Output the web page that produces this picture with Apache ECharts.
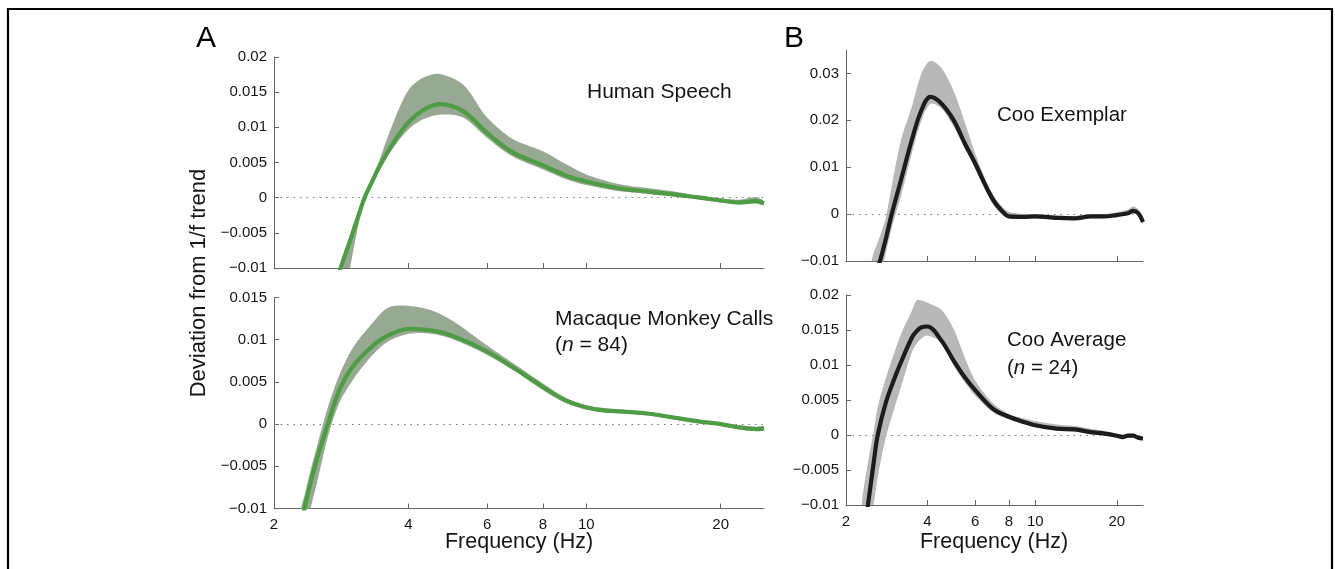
<!DOCTYPE html>
<html>
<head>
<meta charset="utf-8">
<script src="https://cdn.jsdelivr.net/npm/echarts@6/dist/echarts.min.js"></script>
<style>
html,body{margin:0;padding:0;background:#fff;}
#chart{width:1335px;height:569px;}
</style>
</head>
<body>
<div id="chart"></div>
<script>
// ---- Data ----
const xTickValues = [2, 4, 6, 8, 10, 20];

// Panel A top: Human Speech
const speechFreq  = [2.7, 2.82, 2.96, 3.1, 3.19, 3.3, 3.45, 3.7, 4.0, 4.3, 4.69, 5.3, 6, 6.86, 8, 9.04, 10, 11.9, 14, 16, 18, 20, 22, 24, 25];
const speechMean  = [-0.0145, -0.0100, -0.0061, -0.0023, 0.0000, 0.0020, 0.0045, 0.0078, 0.0107, 0.0124, 0.0133, 0.0123, 0.0092, 0.0064, 0.0046, 0.0031, 0.0023, 0.0013, 0.0008, 0.0004, 0.0000, -0.0004, -0.0007, -0.0005, -0.0008];
const speechUpper = [-0.0140, -0.0097, -0.0058, -0.0020, 0.0003, 0.0025, 0.0055, 0.0107, 0.0153, 0.0170, 0.0176, 0.0161, 0.0114, 0.0083, 0.0066, 0.0047, 0.0033, 0.0019, 0.0013, 0.0008, 0.0002, -0.0001, -0.0003, 0.0001, -0.0005];
const speechLower = [-0.0240, -0.0170, -0.0100, -0.0035, -0.0005, 0.0016, 0.0040, 0.0071, 0.0097, 0.0111, 0.0118, 0.0114, 0.0085, 0.0058, 0.0040, 0.0026, 0.0018, 0.0009, 0.0005, 0.0001, -0.0003, -0.0007, -0.0009, -0.0008, -0.0011];

// Panel A bottom: Macaque Monkey Calls
const macaqueFreq  = [2.3, 2.34, 2.4, 2.5, 2.64, 2.8, 3.0, 3.3, 3.6, 4.02, 4.5, 5, 6, 7, 8, 9, 10, 11, 12, 14, 16, 18, 20, 22, 24, 25];
const macaqueMean  = [-0.0118, -0.0100, -0.0075, -0.0040, 0.0000, 0.0040, 0.0068, 0.0091, 0.0105, 0.0113, 0.0111, 0.0105, 0.0086, 0.0064, 0.0044, 0.0028, 0.0020, 0.0016, 0.0015, 0.0012, 0.0007, 0.0003, 0.0000, -0.0004, -0.0006, -0.0005];
const macaqueUpper = [-0.0100, -0.0085, -0.0060, -0.0025, 0.0020, 0.0058, 0.0090, 0.0118, 0.0138, 0.0140, 0.0135, 0.0123, 0.0093, 0.0069, 0.0048, 0.0031, 0.0022, 0.0019, 0.0017, 0.0014, 0.0009, 0.0005, 0.0002, -0.0001, -0.0003, -0.0003];
const macaqueLower = [-0.0150, -0.0130, -0.0105, -0.0068, -0.0015, 0.0025, 0.0052, 0.0080, 0.0098, 0.0107, 0.0107, 0.0101, 0.0082, 0.0061, 0.0040, 0.0025, 0.0017, 0.0014, 0.0013, 0.0010, 0.0005, 0.0001, -0.0002, -0.0006, -0.0008, -0.0007];

// Panel B top: Coo Exemplar
const exemplarFreq  = [2.49, 2.67, 2.8, 2.95, 3.2, 3.5, 3.8, 4.1, 4.5, 5, 5.5, 6, 6.5, 7, 7.5, 8, 9, 10, 12, 14, 16, 18, 20, 22, 23, 24, 25];
const exemplarMean  = [-0.0150, -0.0100, -0.0055, 0.0000, 0.0075, 0.0158, 0.0222, 0.0250, 0.0236, 0.0200, 0.0150, 0.0108, 0.0065, 0.0030, 0.0008, -0.0005, -0.0006, -0.0005, -0.0008, -0.0009, -0.0005, -0.0005, -0.0002, 0.0002, 0.0007, 0.0002, -0.0017];
const exemplarUpper = [-0.0100, -0.0047, -0.0010, 0.0060, 0.0160, 0.0229, 0.0300, 0.0327, 0.0312, 0.0262, 0.0195, 0.0129, 0.0078, 0.0040, 0.0018, 0.0005, 0.0000, 0.0000, -0.0003, -0.0004, 0.0000, 0.0000, 0.0004, 0.0010, 0.0017, 0.0010, -0.0010];
const exemplarLower = [-0.0210, -0.0140, -0.0085, -0.0030, 0.0040, 0.0129, 0.0200, 0.0235, 0.0225, 0.0186, 0.0140, 0.0097, 0.0055, 0.0019, 0.0000, -0.0010, -0.0010, -0.0009, -0.0012, -0.0013, -0.0009, -0.0009, -0.0006, -0.0002, 0.0002, -0.0003, -0.0022];

// Panel B bottom: Coo Average
const averageFreq  = [2.29, 2.41, 2.53, 2.62, 2.8, 3.0, 3.2, 3.5, 3.64, 3.8, 4.0, 4.5, 5, 5.5, 6, 7, 8, 9, 10, 12, 14, 16, 18, 20, 21, 22, 23, 24, 25];
const averageMean  = [-0.0160, -0.0100, -0.0040, 0.0000, 0.0045, 0.0078, 0.0105, 0.0139, 0.0148, 0.0154, 0.0155, 0.0135, 0.0106, 0.0082, 0.0064, 0.0037, 0.0026, 0.0019, 0.0014, 0.0009, 0.0008, 0.0004, 0.0002, -0.0001, -0.0003, -0.0001, -0.0001, -0.0004, -0.0005];
const averageUpper = [-0.0100, -0.0040, 0.0005, 0.0040, 0.0080, 0.0115, 0.0145, 0.0177, 0.0192, 0.0192, 0.0189, 0.0179, 0.0151, 0.0110, 0.0078, 0.0045, 0.0030, 0.0024, 0.0020, 0.0015, 0.0013, 0.0009, 0.0006, 0.0002, 0.0001, 0.0002, 0.0002, -0.0002, -0.0003];
const averageLower = [-0.0240, -0.0160, -0.0100, -0.0060, -0.0005, 0.0035, 0.0070, 0.0118, 0.0130, 0.0138, 0.0142, 0.0132, 0.0099, 0.0075, 0.0056, 0.0032, 0.0022, 0.0016, 0.0011, 0.0006, 0.0005, 0.0001, -0.0001, -0.0004, -0.0006, -0.0004, -0.0004, -0.0006, -0.0008];

// ---- Styling ----
const FONT = "'Liberation Sans', Arial, Helvetica, sans-serif";
const AXIS_COLOR = '#666';
const TEXT_COLOR = '#151515';
const GREEN = '#4e9c43';
const GREEN_BAND = '#97a993';
const BLACK = '#1c1c1c';
const GREY_BAND = '#b8b8b8';
const SMOOTH = 0.35;

function fmtY(v) {
  const s = String(+(+v).toFixed(4));
  return s.replace('-', '\u2212');
}

function makeX(gi, showLabel) {
  return {
    type: 'log', logBase: 10, gridIndex: gi, min: 2, max: 25,
    axisLine: { onZero: false, lineStyle: { color: AXIS_COLOR, width: 1 } },
    axisTick: { show: true, inside: true, length: 5, customValues: xTickValues, lineStyle: { color: AXIS_COLOR } },
    axisLabel: { show: showLabel, customValues: xTickValues, formatter: v => String(Math.round(v)),
      fontSize: 15, color: TEXT_COLOR, fontFamily: FONT, margin: 9 },
    splitLine: { show: false }, minorTick: { show: false }, minorSplitLine: { show: false }
  };
}
function makeY(gi, min, max, interval, custom) {
  const y = {
    type: 'value', gridIndex: gi, min: min, max: max, interval: interval,
    axisLine: { show: true, lineStyle: { color: AXIS_COLOR, width: 1 } },
    axisTick: { show: true, inside: true, length: 5, lineStyle: { color: AXIS_COLOR } },
    axisLabel: { formatter: fmtY, fontSize: 15, color: TEXT_COLOR, fontFamily: FONT, margin: 7 },
    splitLine: { show: false }
  };
  if (custom) { y.axisTick.customValues = custom; y.axisLabel.customValues = custom; }
  return y;
}
function pairs(f, v) { return f.map((x, i) => [x, v[i]]); }

function panelSeries(gi, f, mean, lo, up, lineColor, bandColor) {
  return [
    { type: 'custom', xAxisIndex: gi, yAxisIndex: gi, clip: true, silent: true, z: 2,
      data: [[f[0], up[0]]],
      renderItem: function (params, api) {
        const pts = [];
        for (let i = 0; i < f.length; i++) pts.push(api.coord([f[i], up[i]]));
        for (let i = f.length - 1; i >= 0; i--) pts.push(api.coord([f[i], lo[i]]));
        return { type: 'polygon', shape: { points: pts, smooth: 0.3 },
                 style: { fill: bandColor, stroke: null } };
      } },
    { type: 'line', xAxisIndex: gi, yAxisIndex: gi, data: pairs(f, mean), symbol: 'none', smooth: SMOOTH,
      lineStyle: { color: lineColor, width: 4.2 }, silent: true, z: 4,
      markLine: { silent: true, symbol: 'none', z: 1, label: { show: false },
        lineStyle: { color: '#777', type: [1.5, 5], width: 1.2 }, emphasis: { disabled: true },
        data: [{ yAxis: 0 }] } }
  ];
}

const option = {
  animation: false,
  backgroundColor: '#fff',
  grid: [
    { left: 274, top: 57, width: 490, height: 211 },
    { left: 274, top: 297.5, width: 490, height: 211 },
    { left: 846, top: 50, width: 297, height: 211 },
    { left: 846, top: 295, width: 297, height: 210 }
  ],
  xAxis: [makeX(0, false), makeX(1, true), makeX(2, false), makeX(3, true)],
  yAxis: [
    makeY(0, -0.01, 0.02, 0.005),
    makeY(1, -0.01, 0.015, 0.005),
    makeY(2, -0.01, 0.035, 0.01, [-0.01, 0, 0.01, 0.02, 0.03]),
    makeY(3, -0.01, 0.02, 0.005)
  ],
  series: [].concat(
    panelSeries(0, speechFreq, speechMean, speechLower, speechUpper, GREEN, GREEN_BAND),
    panelSeries(1, macaqueFreq, macaqueMean, macaqueLower, macaqueUpper, GREEN, GREEN_BAND),
    panelSeries(2, exemplarFreq, exemplarMean, exemplarLower, exemplarUpper, BLACK, GREY_BAND),
    panelSeries(3, averageFreq, averageMean, averageLower, averageUpper, BLACK, GREY_BAND)
  ),
  graphic: [
    { type: 'polyline', shape: { points: [[8, 569], [8, 9], [1332, 9], [1332, 569]] },
      style: { stroke: '#000', lineWidth: 2.2, fill: null }, silent: true },
    { type: 'text', x: 206, y: 39, style: { text: 'A', fontSize: 30, fontFamily: FONT, fill: '#000', align: 'center', verticalAlign: 'middle' } },
    { type: 'text', x: 794, y: 39, style: { text: 'B', fontSize: 30, fontFamily: FONT, fill: '#000', align: 'center', verticalAlign: 'middle' } },
    { type: 'text', x: 587, y: 92, style: { text: 'Human Speech', fontSize: 21, fontFamily: FONT, fill: TEXT_COLOR, align: 'left', verticalAlign: 'middle' } },
    { type: 'text', x: 555, y: 319, style: { text: 'Macaque Monkey Calls', fontSize: 21, fontFamily: FONT, fill: TEXT_COLOR, align: 'left', verticalAlign: 'middle' } },
    { type: 'text', x: 555, y: 345, style: { text: '({i|n} = 84)', fontSize: 21, fontFamily: FONT, fill: TEXT_COLOR, align: 'left', verticalAlign: 'middle',
      rich: { i: { fontStyle: 'italic', fontSize: 21, fontFamily: FONT, fill: TEXT_COLOR } } } },
    { type: 'text', x: 997, y: 115, style: { text: 'Coo Exemplar', fontSize: 20.5, fontFamily: FONT, fill: TEXT_COLOR, align: 'left', verticalAlign: 'middle' } },
    { type: 'text', x: 1007, y: 340, style: { text: 'Coo Average', fontSize: 20.5, fontFamily: FONT, fill: TEXT_COLOR, align: 'left', verticalAlign: 'middle' } },
    { type: 'text', x: 1007, y: 368, style: { text: '({i|n} = 24)', fontSize: 20.5, fontFamily: FONT, fill: TEXT_COLOR, align: 'left', verticalAlign: 'middle',
      rich: { i: { fontStyle: 'italic', fontSize: 20.5, fontFamily: FONT, fill: TEXT_COLOR } } } },
    { type: 'text', x: 519, y: 542, style: { text: 'Frequency (Hz)', fontSize: 21.5, fontFamily: FONT, fill: TEXT_COLOR, align: 'center', verticalAlign: 'middle' } },
    { type: 'text', x: 994, y: 542, style: { text: 'Frequency (Hz)', fontSize: 21.5, fontFamily: FONT, fill: TEXT_COLOR, align: 'center', verticalAlign: 'middle' } },
    { type: 'text', x: 199, y: 283, rotation: Math.PI / 2, style: { text: 'Deviation from 1/f trend', fontSize: 22, fontFamily: FONT, fill: TEXT_COLOR, align: 'center', verticalAlign: 'middle' } }
  ]
};

const chart = echarts.init(document.getElementById('chart'), null, { renderer: 'canvas' });
chart.setOption(option);
</script>
</body>
</html>
